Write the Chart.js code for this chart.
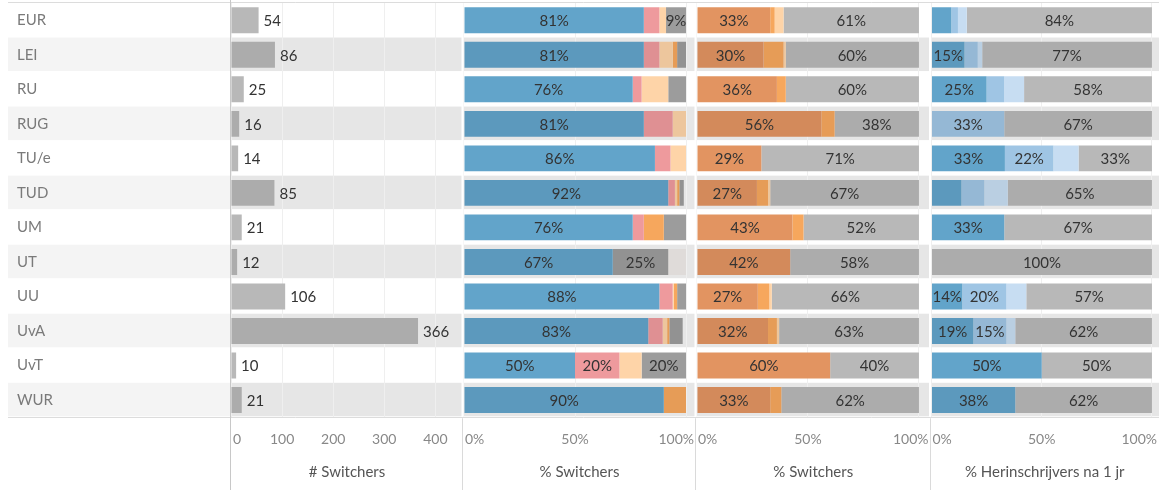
<!DOCTYPE html>
<html><head><meta charset="utf-8">
<script src="https://cdn.jsdelivr.net/npm/chart.js@4.4.1/dist/chart.umd.min.js"></script>
<style>
html,body{margin:0;padding:0;background:#fff;overflow:hidden}
#wrap{position:relative;width:1159px;height:490px}
canvas{display:block}
</style></head>
<body><div id="wrap"><canvas id="c" width="1159" height="490"></canvas></div>
<script>
// ---------- DATA ----------
const universities = ['EUR','LEI','RU','RUG','TU/e','TUD','UM','UT','UU','UvA','UvT','WUR'];

// Panel 1: # Switchers
const switcherCounts = [54, 86, 25, 16, 14, 85, 21, 12, 106, 366, 10, 21];

// Panel 2: % Switchers (six groups)
const sw2Blue   = [81, 81, 76, 81, 86, 92, 76, 67, 88, 83, 50, 90];
const sw2Pink   = [7, 7, 4, 13, 7, 3, 5, 0, 6, 6.5, 20, 0];
const sw2Peach  = [3, 6, 12, 6, 7, 1, 0, 0, 0.5, 2, 10, 0];
const sw2Orange = [0, 2, 0, 0, 0, 1, 9, 0, 1.5, 1, 0, 10];
const sw2Gray   = [9, 4, 8, 0, 0, 2, 10, 25, 4, 6, 20, 0];
const sw2Light  = [0, 0, 0, 0, 0, 0, 0, 8, 0, 0, 0, 0];

// Panel 3: % Switchers (four groups)
const sw3Dark   = [33, 30, 36, 56, 29, 27, 43, 42, 27.4, 32, 60, 33];
const sw3Orange = [2, 9, 4, 6, 0, 5, 5, 0, 5.2, 4, 0, 5];
const sw3Peach  = [4, 1, 0, 0, 0, 1, 0, 0, 1.1, 1, 0, 0];
const sw3Gray   = [61, 60, 60, 38, 71, 67, 52, 58, 66.3, 63, 40, 62];

// Panel 4: % Herinschrijvers na 1 jr (four groups)
const her4Dark  = [9, 15, 25, 0, 33.3, 13.6, 33, 0, 14, 19, 50, 38];
const her4Mid   = [3, 6, 8, 33, 22, 10.4, 0, 0, 20, 15, 0, 0];
const her4Light = [4, 2, 9, 0, 11.4, 10.6, 0, 0, 9, 4, 0, 0];
const her4Gray  = [84, 77, 58, 67, 33.3, 65.4, 67, 100, 57, 62, 50, 62];

// Axis ticks & titles
const countTicks = [0, 100, 200, 300, 400];
const pctTicks = [0, 50, 100];
const axisTitles = ['# Switchers', '% Switchers', '% Switchers', '% Herinschrijvers na 1 jr'];
// labels shown despite being narrow (as in the original)
const extraLabels = ['EUR|x2|4'];

// ---------- STYLE ----------
const FONT = 'Lato, "Open Sans", sans-serif';
function shade(hex, f) {
  const n = parseInt(hex.slice(1), 16);
  const r = Math.round(((n >> 16) & 255) * f), g = Math.round(((n >> 8) & 255) * f), b = Math.round((n & 255) * f);
  return `rgb(${r},${g},${b})`;
}
function banded(hex) {
  return ctx => shade(hex, ctx.dataIndex % 2 === 1 ? 0.935 : 1);
}
function ds(data, color, axis) {
  return {
    data, xAxisID: axis, yAxisID: 'y',
    backgroundColor: banded(color), borderWidth: 0,
    barPercentage: 0.75, categoryPercentage: 1, grouped: false
  };
}

const datasets = [
  ds(switcherCounts, '#b8b8b8', 'x1'),
  ds(sw2Blue, '#62a4ca', 'x2'),
  ds(sw2Pink, '#ee9a9d', 'x2'),
  ds(sw2Peach, '#fed4a8', 'x2'),
  ds(sw2Orange, '#f6a75d', 'x2'),
  ds(sw2Gray, '#9c9c9c', 'x2'),
  ds(sw2Light, '#eeeae8', 'x2'),
  ds(sw3Dark, '#e29461', 'x3'),
  ds(sw3Orange, '#f6a75d', 'x3'),
  ds(sw3Peach, '#fed4a8', 'x3'),
  ds(sw3Gray, '#b8b8b8', 'x3'),
  ds(her4Dark, '#62a4ca', 'x4'),
  ds(her4Mid, '#9fc5e4', 'x4'),
  ds(her4Light, '#c7ddf2', 'x4'),
  ds(her4Gray, '#b8b8b8', 'x4')
];

function xAxis(min, max, weight, ticks) {
  return {
    type: 'linear', position: 'bottom', stack: 'panels', stackWeight: weight,
    stacked: true, min, max,
    afterBuildTicks: s => { s.ticks = ticks.map(v => ({ value: v })); },
    ticks: { display: false },
    grid: { color: '#efefef', lineWidth: 1, drawTicks: false },
    border: { display: false }
  };
}

const look = {
  id: 'look',
  beforeDraw(chart) {
    const { ctx, chartArea: ca, scales } = chart;
    const ys = scales.y;
    const step = ys.getPixelForValue(1) - ys.getPixelForValue(0);
    ctx.save();
    ctx.fillStyle = '#fff';
    ctx.fillRect(0, 0, chart.width, chart.height);
    universities.forEach((u, i) => {
      if (i % 2 === 1) {
        const top = ys.getPixelForValue(i) - step / 2;
        ctx.fillStyle = '#f4f4f4';
        ctx.fillRect(8, top, ca.left - 8, step - 1);
        ctx.fillStyle = '#e6e6e6';
        ctx.fillRect(ca.left, top, ca.right - ca.left, step - 1);
      }
    });
    ctx.restore();
  },
  afterDatasetsDraw(chart) {
    const { ctx } = chart;
    ctx.save();
    ctx.font = '15px ' + FONT;
    ctx.textBaseline = 'middle';
    chart.data.datasets.forEach((d, di) => {
      const meta = chart.getDatasetMeta(di);
      meta.data.forEach((el, i) => {
        const v = d.data[i];
        if (!v) return;
        if (d.xAxisID === 'x1') {
          ctx.fillStyle = '#333';
          ctx.textAlign = 'left';
          ctx.fillText(String(v), el.x + 5, el.y + 1);
          return;
        }
        const dsInAxis = chart.data.datasets.filter(x => x.xAxisID === d.xAxisID).indexOf(d);
        const key = universities[i] + '|' + d.xAxisID + '|' + dsInAxis;
        if (v < 14 && !extraLabels.includes(key)) return;
        ctx.fillStyle = '#333';
        ctx.textAlign = 'center';
        ctx.fillText(Math.round(v) + '%', (el.x + el.base) / 2, el.y + 1);
      });
    });
    ctx.restore();
  },
  afterDraw(chart) {
    const { ctx, chartArea: ca, scales } = chart;
    const axes = ['x1', 'x2', 'x3', 'x4'].map(k => scales[k]);
    ctx.save();
    // panel separators in plot area (white gaps)
    ctx.fillStyle = '#fff';
    axes.slice(1).forEach(s => ctx.fillRect(s.left - 1.5, ca.top, 2, ca.bottom - ca.top));
    // borders
    ctx.strokeStyle = '#dcdcdc';
    ctx.lineWidth = 1;
    ctx.beginPath();
    ctx.moveTo(8, 2.5); ctx.lineTo(chart.width, 2.5);
    ctx.moveTo(8, Math.round(ca.bottom) + 0.5); ctx.lineTo(chart.width, Math.round(ca.bottom) + 0.5);
    ctx.stroke();
    ctx.strokeStyle = '#c8c8c8';
    ctx.beginPath();
    ctx.moveTo(Math.round(ca.left) - 0.5, 0); ctx.lineTo(Math.round(ca.left) - 0.5, chart.height);
    ctx.stroke();
    ctx.strokeStyle = '#dadada';
    ctx.beginPath();
    axes.slice(1).forEach(s => {
      const x = Math.round(s.left) - 0.5;
      ctx.moveTo(x, ca.bottom + 1); ctx.lineTo(x, chart.height);
    });
    ctx.stroke();
    // tick labels (kept inside each pane, as Tableau does)
    ctx.font = '14px ' + FONT;
    ctx.fillStyle = '#888';
    ctx.textBaseline = 'middle';
    ctx.textAlign = 'left';
    axes.forEach((s, ai) => {
      const ticks = ai === 0 ? countTicks : pctTicks;
      ticks.forEach(v => {
        const label = ai === 0 ? String(v) : v + '%';
        const w = ctx.measureText(label).width;
        let x = s.getPixelForValue(v) - w / 2;
        x = Math.max(s.left + 2, Math.min(s.right - 2 - w, x));
        ctx.fillText(label, x, 439);
      });
    });
    // axis titles
    ctx.font = '15px ' + FONT;
    ctx.fillStyle = '#555';
    ctx.textAlign = 'center';
    axes.forEach((s, ai) => ctx.fillText(axisTitles[ai], (s.left + s.right) / 2, 472));
    ctx.restore();
  }
};

new Chart(document.getElementById('c'), {
  type: 'bar',
  data: { labels: universities, datasets },
  options: {
    indexAxis: 'y',
    responsive: false,
    animation: false,
    events: [],
    layout: { padding: { left: 17, right: 0, top: 3, bottom: 72.7 } },
    plugins: { legend: { display: false }, tooltip: { enabled: false } },
    scales: {
      y: {
        type: 'category', position: 'left',
        afterFit: s => { s.width = 214; s.paddingTop = 0; s.paddingBottom = 0; },
        ticks: { crossAlign: 'far', color: '#7a7a7a', font: { family: FONT, size: 15 }, padding: 0 },
        grid: { display: false, drawTicks: false },
        border: { display: false }
      },
      x1: xAxis(0, 454, 232, countTicks),
      x2: xAxis(-0.45, 104.5, 233, pctTicks),
      x3: xAxis(-0.45, 105.2, 234.5, pctTicks),
      x4: xAxis(-0.45, 103.2, 228.5, pctTicks)
    }
  },
  plugins: [look]
});
</script>
</body></html>
